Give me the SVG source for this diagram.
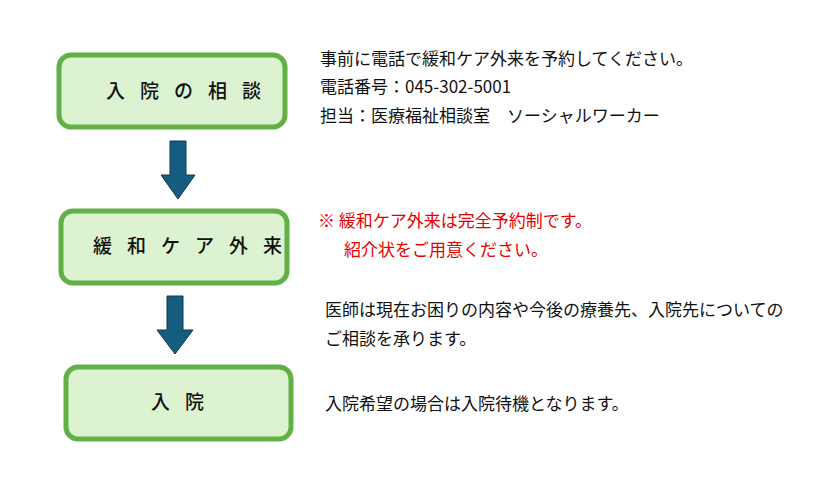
<svg xmlns="http://www.w3.org/2000/svg" width="834" height="480" viewBox="0 0 834 480">
<style>
.box{fill:#dcf2d0;stroke:#62b046;stroke-width:5}
.lbl{font-family:"Noto Sans CJK JP",sans-serif;font-size:19px;fill:#111;font-weight:500;letter-spacing:15px}
.t{font-family:"Noto Sans CJK JP",sans-serif;font-size:17px;fill:#111}
.r{fill:#e60000}
.arr{fill:#155d7e;stroke:#0d3a50;stroke-width:1}
</style>
<g id="n1"><rect class="box" x="59" y="55" width="226" height="72" rx="12"/><text class="lbl" x="106" y="98">入院の相談</text></g>
<g id="n2"><rect class="box" x="61" y="211" width="226" height="72" rx="12"/><text class="lbl" x="93" y="253">緩和ケア外来</text></g>
<g id="n3"><rect class="box" x="66" y="367" width="225" height="72" rx="12"/><text class="lbl" x="151" y="409">入院</text></g>
<g id="connectors">
<polygon class="arr" points="170,141 186,141 186,175 195,175 178,199 161,175 170,175"/>
<polygon class="arr" points="167,296 183,296 183,330 193,330 175,354 157,330 167,330"/>
</g>
<g id="texts">
<text class="t" x="320" y="65">事前に電話で緩和ケア外来を予約してください。</text>
<text class="t" x="320" y="93">電話番号：045-302-5001</text>
<text class="t" x="320" y="122">担当：医療福祉相談室　ソーシャルワーカー</text>
<text class="t r" x="318" y="227">※ 緩和ケア外来は完全予約制です。</text>
<text class="t r" x="344" y="256">紹介状をご用意ください。</text>
<text class="t" x="325" y="316">医師は現在お困りの内容や今後の療養先、入院先についての</text>
<text class="t" x="325" y="345">ご相談を承ります。</text>
<text class="t" x="325" y="410">入院希望の場合は入院待機となります。</text>
</g>
</svg>
